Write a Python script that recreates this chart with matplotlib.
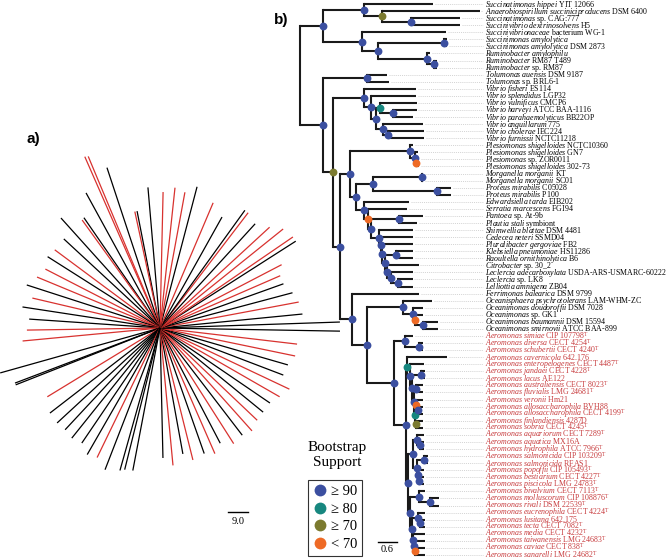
## two-panel phylogeny figure: a) unrooted radial tree, b) rectangular tree with bootstrap support

import matplotlib
matplotlib.use("Agg")
import numpy as np
import matplotlib.pyplot as plt
from matplotlib.lines import Line2D

plt.rcParams["font.family"] = ["Liberation Serif", "DejaVu Serif"]
plt.rcParams["mathtext.fontset"] = "custom"
plt.rcParams["mathtext.rm"] = "Liberation Serif"
plt.rcParams["mathtext.it"] = "Liberation Serif:italic"

# ---- panel b: taxa (italic part / strain part), top to bottom
TAXA = [
    "Succinatimonas hippei", "Anaerobiospirillum succiniciproducens", "Succinatimonas",
    "Succinivibrio dextrinosolvens", "Succinivibrionaceae", "Succinimonas amylolytica",
    "Succinimonas amylolytica", "Ruminobacter amylophilu", "Ruminobacter", "Ruminobacter",
    "Tolumonas auensis", "Tolumonas", "Vibrio fisheri", "Vibrio splendidus",
    "Vibrio vulnificus", "Vibrio harveyi", "Vibrio parahaemolyticus", "Vibrio anguillarum",
    "Vibrio cholerae", "Vibrio furnissii", "Plesiomonas shigelloides", "Plesiomonas shigelloides",
    "Plesiomonas", "Plesiomonas shigelloides", "Morganella morganii", "Morganella morganii",
    "Proteus mirabilis", "Proteus mirabilis", "Edwardsiella tarda", "Serratia marcescens",
    "Pantoea", "Plautia stali", "Shimwellia blattae", "Cedecea neteri",
    "Pluralibacter gergoviae", "Klebsiella pneumoniae", "Raoultella ornithinolytica",
    "Citrobacter", "Leclercia adecarboxylata", "Leclercia", "Lelliottia amnigena",
    "Ferrimonas balearica", "Oceanisphaera psychrotolerans", "Oceanimonas doudoroffii",
    "Oceanimonas", "Oceanimonas baumannii", "Oceanimonas smirnovii",
    "Aeromonas simiae", "Aeromonas diversa", "Aeromonas schubertii", "Aeromonas cavernicola",
    "Aeromonas enteropelogenes", "Aeromonas jandaei", "Aeromonas lacus",
    "Aeromonas australiensis", "Aeromonas fluvialis", "Aeromonas veronii",
    "Aeromonas allosaccharophila", "Aeromonas allosaccharophila", "Aeromonas finlandiensis",
    "Aeromonas sobria", "Aeromonas aquariorum", "Aeromonas aquatica", "Aeromonas hydrophila",
    "Aeromonas salmonicida", "Aeromonas salmonicida", "Aeromonas popoffii",
    "Aeromonas bestiarium", "Aeromonas piscicola", "Aeromonas bivalvium",
    "Aeromonas molluscorum", "Aeromonas rivali", "Aeromonas eucrenophila",
    "Aeromonas lusitana", "Aeromonas tecta", "Aeromonas media", "Aeromonas taiwanensis",
    "Aeromonas caviae", "Aeromonas sanarelli",
]
STRAINS = [
    "YIT 12066", "DSM 6400", "sp. CAG:777", "H5", "bacterium WG-1", "", "DSM 2873", "",
    "RM87 T489", "sp. RM87", "DSM 9187", "sp. BRL6-1", "ES114", "LGP32", "CMCP6",
    "ATCC BAA-1116", "BB22OP", "775", "IEC224", "NCTC11218", "NCTC10360", "GN7",
    "sp. ZOR0011", "302-73", "KT", "SC01", "C05028", "P100", "EIB202", "FGI94",
    "sp. At-9b", "symbiont", "DSM 4481", "SSMD04", "FB2", "HS11286", "B6", "sp. 30_2",
    "USDA-ARS-USMARC-60222", "sp. LK8", "ZB04", "DSM 9799", "LAM-WHM-ZC", "DSM 7028",
    "sp. GK1", "DSM 15594", "ATCC BAA-899",
    "CIP 107798", "CECT 4254", "CECT 4240", "642.176", "CECT 4487", "CECT 4228", "AE122",
    "CECT 8023", "LMG 24681", "Hm21", "BVH88", "CECT 4199", "4287D", "CECT 4245",
    "CECT 7289", "MX16A", "ATCC 7966", "CIP 103209", "RFAS1", "CIP 105493", "CECT 4227",
    "LMG 24783", "CECT 7113", "CIP 108876", "DSM 22539", "CECT 4224", "642.175",
    "CECT 7082", "CECT 4232", "LMG 24683", "CECT 838", "LMG 24682",
]
TYPE_STRAINS = [47, 48, 49, 51, 52, 54, 55, 58, 60, 61, 63, 64, 66, 67, 68, 69, 70, 71,
                72, 74, 75, 76, 77, 78]

# newick pieces; leaves are indices into TAXA, node labels are bootstrap classes
# A: >=90, B: >=80, C: >=70, D: <70
SUCC = ("((0:2.18,(1:3.09,(2:1.55,3:1.55)A:0.92)C:0.57)A:1.29,(4:2.65,((5:0.09,6:0.09)A:2.08,"
        "(7:0.09,(8:0.09,9:0.09)A:0.22)A:1.55)A:0.51)A:1.23)A:0.73")
VIBRIO = ("(12:1.64,(13:1.42,((14:1.14,(15:0.73,16:0.63)A:0.41)B:0.13,(17:1.26,"
          "(18:1.14,19:1.14)A:0.16)A:0.22)A:0.16)A:0.22)A:0.98")
PLESIO = "(20:0.09,(21:0.09,(22:0.09,23:0.09)D:0.03)A:0.16)A:1.89"
MORG_PROT = "((24:0.06,25:0.06)A:1.55,(26:0.44,27:0.44)A:2.05)A:0.51"
ENTERO = ("(28:1.42,(29:1.23,((30:0.76,31:0.57)A:0.88,(32:1.07,(33:1.01,(34:0.98,"
          "((35:0.54,36:0.54)A:0.35,(37:1.01,(38:0.69,(39:0.47,40:0.47)A:0.22)A:0.13)A:0.06)"
          "A:0.09)A:0.03)A:0.06)A:0.25)A:0.09)D:0.13)A:0.25")
OCEAN = "(42:0.92,(43:0.32,(44:0.25,(45:0.47,46:0.47)A:0.25)D:0.06)A:0.32)A:1.14"
AER_BASAL = "(47:0.25,(48:0.13,49:0.13)A:0.44)A:0.35"
AER_VERONII = ("(50:1.26,(51:0.44,((52:0.13,53:0.13)A:0.28,((54:0.25,55:0.25)A:0.06,"
               "((56:0.25,(57:0.16,58:0.16)A:0.09)D:0.03,(59:0.25,60:0.25)C:0.03)B:0.03)"
               "A:0.06)A:0.06)A:0.09)B:0.03")
AER_CAVIAE = ("(((61:0.22,(62:0.13,63:0.13)A:0.09)A:0.13,((64:0.13,65:0.13)A:0.22,"
              "(66:0.19,(67:0.16,68:0.16)A:0.03)A:0.03)A:0.13)A:0.16,((69:0.19,"
              "(70:0.28,71:0.28)A:0.35)A:0.28,((72:0.22,(73:0.16,74:0.16)A:0.06)A:0.19,"
              "(75:0.38,(76:0.35,(77:0.32,78:0.32)D:0.03)A:0.03)A:0.03)A:0.06)A:0.06)A:0.06")

AER = "(" + AER_BASAL + ",(" + AER_VERONII + "," + AER_CAVIAE + ")A:0.38)A:0.85"
GAMMA = ("((10:0.63,11:0.69)A:1.39,(" + VIBRIO + ",((" + PLESIO + ",(" + MORG_PROT + ","
         + ENTERO + ")A:0.19)A:0.32,(41:2.12,(" + OCEAN + "," + AER + ")A:0.47)A:0.38)"
         "A:0.22)C:0.32)A:0.73")
TREE = "(" + SUCC + "," + GAMMA + ");"

SUPPORT_COLORS = {"A": "#3b4fa0", "B": "#17877f", "C": "#7b7a2f", "D": "#ee6a25"}
SUPPORT_LABELS = ["\u2265 90", "\u2265 80", "\u2265 70", "< 70"]

# ---- panel a: unrooted radial tree, tip angle (deg), tip distance, group (r = Aeromonas)
RADIAL_ANGLE = [-88.7, -84.6, -79.7, -76, -70.6, -66.4, -62.4, -57.5, -52.5, -48.2, -43.5,
                -39.2, -34.3, -29.9, -25.3, -20.9, -16.1, -11.7, -6.7, -1.0, 1.9, 5.6, 10.6,
                14.9, 19.7, 23.5, 27.5, 32.6, 34.4, 38.8, 42.6, 47.6, 52.6, 54.2, 60.8, 67,
                75.3, 79.6, 83.9, 88.7, 94.9, 101.1, 102.2, 108.3, 112.7, 113.7, 118.7, 124.6,
                125.8, 132, 137.2, 143.4, 147.6, 152.8, 157.5, 162.1, 166.8, 171.3, 176.1,
                180.9, 185.4, 195.7, 200.8, 201.5, 211.4, 217.7, 222.7, 227, 231.3, 235.8,
                240.1, 244.1, 248.8, 254.3, 256, 259.2, 265]
RADIAL_LENGTH = [58.5, 62.1, 57.6, 61.2, 59.9, 61.7, 58.5, 61.7, 60.8, 62.1, 60.3, 59.9,
                 59.9, 62.1, 64.4, 59.4, 59.9, 62.1, 62.1, 81, 81, 64.4, 63.5, 61.7, 59,
                 59, 61.7, 72.5, 72.5, 71.1, 67, 63.5, 65.3, 65.3, 57.2, 61.2, 65.7, 62.1,
                 63.5, 61.2, 63.5, 53.6, 53.6, 76, 83.7, 84.2, 69.3, 60.3, 59.9, 66.6, 59,
                 59, 59.9, 58, 59.9, 63, 59, 62.6, 59, 59.9, 62.1, 74.7, 69.8, 69.8, 59.4,
                 62.6, 63, 62.6, 63.5, 62.6, 65.7, 64.8, 68.4, 66.6, 65.7, 65.3, 62.1]
RADIAL_GROUP = list("krkrkrkrkrrkkrrkkrrkkkrkkrrkrrrkrkkrkrrrkkrkrrkkrkkrkrrkrkkrrkkkrkkkkkkrkkkk")


def parse_newick(s):
    s = "".join(s.split())
    pos = 0

    def node():
        nonlocal pos
        kids = []
        if s[pos] == "(":
            pos += 1
            kids.append(node())
            while s[pos] == ",":
                pos += 1
                kids.append(node())
            pos += 1
        start = pos
        while s[pos] not in ":,();":
            pos += 1
        label = s[start:pos]
        length = 0.0
        if s[pos] == ":":
            pos += 1
            start = pos
            while s[pos] not in ",();":
                pos += 1
            length = float(s[start:pos])
        return {"label": label, "length": length, "children": kids}

    return node()


def layout(nd, x0=0.0):
    nd["x"] = x0 + nd["length"]
    if nd["children"]:
        for c in nd["children"]:
            layout(c, nd["x"])
        nd["y"] = (nd["children"][0]["y"] + nd["children"][-1]["y"]) / 2
    else:
        nd["y"] = int(nd["label"])


def walk(nd):
    yield nd
    for c in nd["children"]:
        yield from walk(c)


fig = plt.figure(figsize=(6.67, 5.58), dpi=100)

# ---------------- panel a
ax_a = fig.add_axes([0, 0, 345 / 667, 1])
ax_a.set_xlim(-72, 83.25)
ax_a.set_ylim(-103.5, 147.6)
ax_a.axis("off")
ang = np.radians(RADIAL_ANGLE)
for a, L, g in zip(ang, RADIAL_LENGTH, RADIAL_GROUP):
    ax_a.plot([0, L * np.cos(a)], [0, L * np.sin(a)],
              color="#d8322f" if g == "r" else "black", lw=0.9,
              solid_capstyle="butt", clip_on=False)
ax_a.plot([30.6, 39.6], [-82.8, -82.8], color="black", lw=1.0)
ax_a.text(35.1, -85.0, "9.0", ha="center", va="top", fontsize=7.5)

# ---------------- panel b
root = parse_newick(TREE)
layout(root, 0.0)
root["x"] = 0.0

ax_b = fig.add_axes([300 / 667, 0, 367 / 667, 1])
ax_b.set_xlim(0, 11.59)
ax_b.set_ylim(78.43, -0.566)
ax_b.axis("off")
ax_b.patch.set_alpha(0)

label_x = 5.84
for nd in walk(root):
    if nd["children"]:
        ys = [c["y"] for c in nd["children"]]
        ax_b.plot([nd["x"], nd["x"]], [min(ys), max(ys)], color="#1a1a1a", lw=1.5,
                  solid_capstyle="projecting", clip_on=False, zorder=2)
        for c in nd["children"]:
            ax_b.plot([nd["x"], c["x"]], [c["y"], c["y"]], color="#1a1a1a", lw=1.5,
                      solid_capstyle="butt", clip_on=False, zorder=2)
        if nd is not root:
            ax_b.scatter(nd["x"], nd["y"], s=32, color=SUPPORT_COLORS[nd["label"]],
                         zorder=3, linewidths=0)
    else:
        i = int(nd["label"])
        ax_b.plot([nd["x"] + 0.05, label_x - 0.06], [i, i], color="#c4c4c4", lw=0.5,
                  ls=(0, (1.5, 1.5)), zorder=1)
        txt = r"$\mathit{" + TAXA[i].replace(" ", r"\ ") + "}$"
        if STRAINS[i]:
            txt += " " + STRAINS[i]
        if i in TYPE_STRAINS:
            txt += r"$^{\mathrm{T}}$"
        color = "#c73a3c" if TAXA[i].startswith("Aeromonas") else "black"
        ax_b.text(label_x, i + 0.36, txt, fontsize=5.7, color=color, va="baseline",
                  ha="left", clip_on=False)

# scale bar
ax_b.plot([2.46, 3.06], [76.2, 76.2], color="black", lw=1.0)
ax_b.text(2.76, 76.6, "0.6", ha="center", va="top", fontsize=7.5)

# legend
handles = [Line2D([], [], ls="none", marker="o", markersize=8.5,
                  markerfacecolor=SUPPORT_COLORS[k], markeredgewidth=0)
           for k in "ABCD"]
fig.legend(handles, SUPPORT_LABELS, loc="lower left", bbox_to_anchor=(308 / 667, 2 / 558),
           fontsize=10.5, frameon=True, fancybox=False, edgecolor="black",
           handlelength=0.9, handletextpad=0.3, labelspacing=0.3, borderpad=0.35,
           borderaxespad=0)
fig.legends[0].get_frame().set_linewidth(0.8)
fig.text(337 / 667, 1 - 455 / 558, "Bootstrap\nSupport", ha="center", va="center",
         fontsize=11, linespacing=1.25)

fig.text(33 / 667, 1 - 139 / 558, "a)", family="Liberation Sans", fontweight="bold",
         fontsize=11, ha="center", va="center")
fig.text(281 / 667, 1 - 20 / 558, "b)", family="Liberation Sans", fontweight="bold",
         fontsize=11, ha="center", va="center")

fig.savefig("out.png", dpi=100)
